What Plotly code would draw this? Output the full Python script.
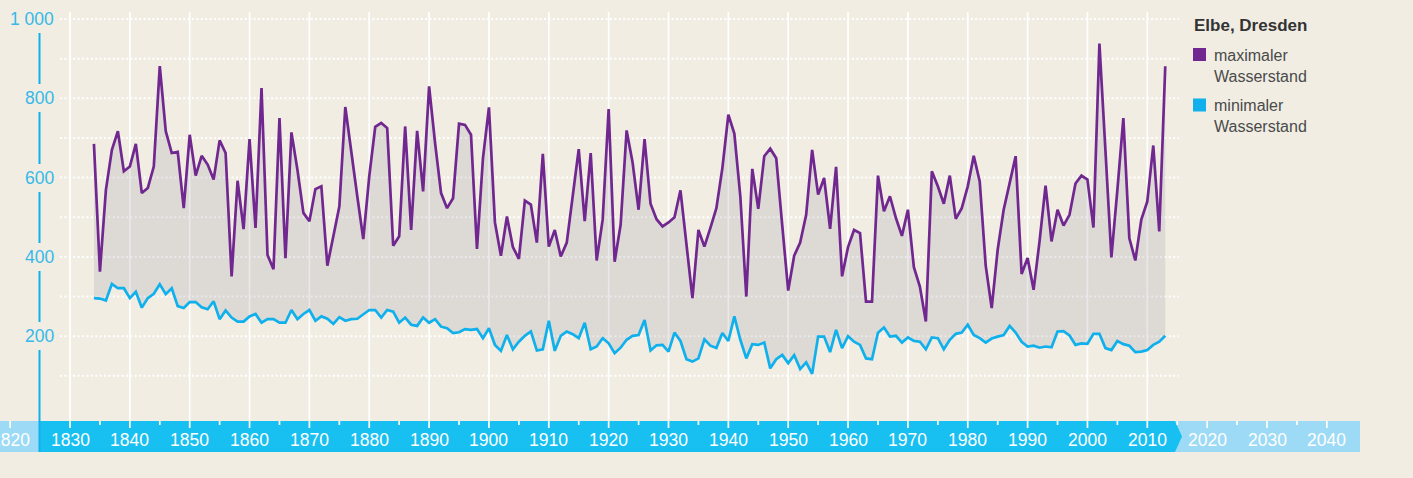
import plotly.graph_objects as go

# ---------------- data ----------------
years = list(range(1834, 2014))

max_level = [
    685, 363, 569, 670, 717, 616,                      # 1834-1839
    628, 685, 561, 574, 628, 881, 717, 662, 665, 523,  # 1840s
    708, 605, 655, 633, 595, 694, 662, 351, 592, 470,  # 1850s
    697, 473, 826, 405, 369, 750, 397, 714, 620, 511,  # 1860s
    490, 571, 578, 378, 452, 527, 778, 662, 553, 445,  # 1870s
    603, 728, 738, 725, 428, 452, 729, 468, 718, 565,  # 1880s
    830, 687, 561, 523, 548, 736, 733, 708, 420, 649,  # 1890s
    777, 487, 403, 502, 425, 395, 542, 532, 436, 660,  # 1900s
    426, 468, 401, 436, 548, 672, 490, 662, 391, 494,  # 1910s
    773, 388, 481, 719, 638, 519, 697, 534, 495, 477,  # 1920s
    487, 500, 568, 430, 296, 468, 426, 473, 523, 624,  # 1930s
    759, 711, 553, 300, 622, 521, 654, 673, 649, 480,  # 1940s
    315, 403, 436, 506, 670, 557, 599, 471, 627, 351,  # 1950s
    425, 468, 460, 287, 287, 605, 515, 553, 498, 453,  # 1960s
    519, 374, 325, 237, 616, 578, 534, 605, 496, 523,  # 1970s
    578, 655, 590, 378, 271, 418, 519, 586, 654, 357,  # 1980s
    397, 317, 440, 580, 439, 519, 479, 506, 585, 605,  # 1990s
    595, 474, 938, 670, 399, 569, 750, 447, 391, 494,  # 2000s
    540, 681, 464, 881,                                # 2010-2013
]

min_level = [
    296, 295, 290, 332, 321, 321,                      # 1834-1839
    296, 312, 272, 296, 307, 331, 306, 321, 276, 271,  # 1840s
    286, 286, 273, 268, 288, 243, 265, 247, 237, 237,  # 1850s
    250, 256, 234, 243, 243, 234, 234, 266, 243, 256,  # 1860s
    266, 239, 250, 244, 231, 248, 239, 243, 244, 254,  # 1870s
    266, 266, 247, 266, 262, 234, 247, 229, 226, 247,  # 1880s
    234, 243, 224, 220, 208, 210, 218, 216, 218, 195,  # 1890s
    220, 178, 163, 203, 167, 186, 201, 212, 164, 167,  # 1900s
    239, 163, 201, 212, 205, 195, 234, 167, 174, 195,  # 1910s
    182, 157, 171, 191, 201, 203, 241, 164, 177, 178,  # 1920s
    161, 209, 188, 142, 136, 144, 192, 176, 170, 208,  # 1930s
    188, 250, 191, 144, 180, 178, 184, 119, 142, 153,  # 1940s
    132, 152, 117, 134, 105, 199, 199, 160, 216, 170,  # 1950s
    200, 186, 178, 144, 142, 209, 222, 199, 201, 184,  # 1960s
    197, 188, 186, 167, 197, 195, 167, 191, 206, 209,  # 1970s
    229, 203, 195, 184, 194, 199, 203, 226, 209, 186,  # 1980s
    174, 176, 171, 174, 172, 212, 213, 202, 178, 182,  # 1990s
    181, 206, 206, 170, 165, 188, 180, 176, 160, 161,  # 2000s
    165, 178, 186, 201,                                # 2010-2013
]

y_tick_values = [1000, 800, 600, 400, 200]
y_tick_labels = ["1 000", "800", "600", "400", "200"]
x_tick_years = [1820, 1830, 1840, 1850, 1860, 1870, 1880, 1890, 1900, 1910,
                1920, 1930, 1940, 1950, 1960, 1970, 1980, 1990, 2000, 2010,
                2020, 2030, 2040]
grid_values = [100, 200, 300, 400, 500, 600, 700, 800, 900, 1000]

title_text = "Elbe, Dresden"
series_names = ["maximaler<br>Wasserstand", "minimaler<br>Wasserstand"]

# ---------------- style ----------------
W, H = 1413, 478
BG = "#f1ede3"
PURPLE = "#70278f"
CYAN = "#0fb0ec"
BAND = "#17c0f1"
BAND_LIGHT = "#9cdaf5"
AXIS_TEXT = "#36b9e8"
FONT = "Liberation Sans, Arial, sans-serif"

PX_PER_YEAR = 5.985
X0 = 1830 - 70 / PX_PER_YEAR
X1 = X0 + W / PX_PER_YEAR
PX_PER_UNIT = 0.3965
ZERO_PY = 415.5
Y1 = ZERO_PY / PX_PER_UNIT
Y0 = -(H - ZERO_PY) / PX_PER_UNIT


def pxp(p):  # pixel x -> paper
    return p / W


def pyp(p):  # pixel y -> paper
    return 1 - p / H


fig = go.Figure()

# fill between min and max
fig.add_trace(go.Scatter(x=years, y=min_level, mode="lines", line=dict(width=0),
                         hoverinfo="skip", showlegend=False))
fig.add_trace(go.Scatter(x=years, y=max_level, mode="lines", line=dict(width=0),
                         fill="tonexty", fillcolor="rgba(108,110,127,0.15)",
                         hoverinfo="skip", showlegend=False))
# lines
fig.add_trace(go.Scatter(x=years, y=min_level, mode="lines", name="minimaler Wasserstand",
                         line=dict(color=CYAN, width=2.7), showlegend=False))
fig.add_trace(go.Scatter(x=years, y=max_level, mode="lines", name="maximaler Wasserstand",
                         line=dict(color=PURPLE, width=2.7), showlegend=False))

shapes = []
# horizontal dotted gridlines
for v in grid_values:
    shapes.append(dict(type="line", layer="below", xref="paper", yref="y",
                       x0=pxp(60), x1=pxp(1179), y0=v, y1=v,
                       line=dict(color="white", width=2, dash="2px,2.4px")))
# vertical decade gridlines
for yr in x_tick_years:
    if 1830 <= yr <= 2010:
        shapes.append(dict(type="line", layer="below", xref="x", yref="paper",
                           x0=yr, x1=yr, y0=pyp(12), y1=pyp(428),
                           line=dict(color="white", width=1.7)))

# axis band
shapes.append(dict(type="rect", layer="above", xref="paper", yref="paper",
                   x0=pxp(0), x1=pxp(1360), y0=pyp(452), y1=pyp(421),
                   fillcolor=BAND_LIGHT, line=dict(width=0)))
band_path = (f"M {pxp(40)},{pyp(421)} L {pxp(1175)},{pyp(421)} "
             f"L {pxp(1182)},{pyp(436.5)} L {pxp(1175)},{pyp(452)} "
             f"L {pxp(40)},{pyp(452)} Z")
shapes.append(dict(type="path", layer="above", xref="paper", yref="paper",
                   path=band_path, fillcolor=BAND, line=dict(width=0)))
# ticks on band
for yr in range(1820, 2045, 5):
    if yr == 1825:
        continue
    long_tick = (yr % 10 == 0)
    shapes.append(dict(type="line", layer="above", xref="x", yref="paper",
                       x0=yr, x1=yr, y0=pyp(421), y1=pyp(428 if long_tick else 425),
                       line=dict(color="white", width=1.7)))

# y axis line segments (broken behind labels)
for a, b in [(33, 84), (112, 164), (192, 243), (271, 322), (350, 452)]:
    shapes.append(dict(type="line", layer="above", xref="paper", yref="paper",
                       x0=pxp(39.5), x1=pxp(39.5), y0=pyp(a), y1=pyp(b),
                       line=dict(color=CYAN, width=2)))

# legend squares
shapes.append(dict(type="rect", xref="paper", yref="paper",
                   x0=pxp(1193), x1=pxp(1206), y0=pyp(61), y1=pyp(48),
                   fillcolor=PURPLE, line=dict(width=0)))
shapes.append(dict(type="rect", xref="paper", yref="paper",
                   x0=pxp(1193), x1=pxp(1206), y0=pyp(111.5), y1=pyp(98.5),
                   fillcolor=CYAN, line=dict(width=0)))

annotations = []
# y tick labels
for v, t in zip(y_tick_values, y_tick_labels):
    annotations.append(dict(text=t, xref="paper", yref="y", x=pxp(55.5), y=v,
                            xanchor="right", yanchor="middle", showarrow=False,
                            font=dict(family=FONT, size=17.5, color=AXIS_TEXT)))
# x tick labels
for yr in x_tick_years:
    annotations.append(dict(text=str(yr), xref="x", yref="paper", x=yr, y=pyp(440),
                            xanchor="center", yanchor="middle", showarrow=False,
                            font=dict(family=FONT, size=17.5, color="white")))
# legend texts
annotations.append(dict(text="<b>" + title_text + "</b>", xref="paper", yref="paper",
                        x=pxp(1192), y=pyp(25.5), xanchor="left", yanchor="middle",
                        showarrow=False, font=dict(family=FONT, size=17, color="#333333")))
for name, y_top in zip(series_names, [46, 96]):
    annotations.append(dict(text=name, xref="paper", yref="paper", x=pxp(1213), y=pyp(y_top),
                            xanchor="left", yanchor="top", align="left", showarrow=False,
                            borderpad=0,
                            font=dict(family=FONT, size=16, color="#4a4a4a")))

fig.update_layout(
    width=W, height=H, autosize=False,
    margin=dict(l=0, r=0, t=0, b=0, pad=0),
    paper_bgcolor=BG, plot_bgcolor=BG,
    showlegend=False,
    xaxis=dict(range=[X0, X1], visible=False, fixedrange=True),
    yaxis=dict(range=[Y0, Y1], visible=False, fixedrange=True),
    shapes=shapes, annotations=annotations,
    font=dict(family=FONT),
)

fig.write_html(
    "out.html",
    config={"displayModeBar": False},
    post_script=("document.body.style.margin='0px';"
                 "document.body.style.overflow='hidden';"
                 "document.body.style.background='" + BG + "';"),
)
